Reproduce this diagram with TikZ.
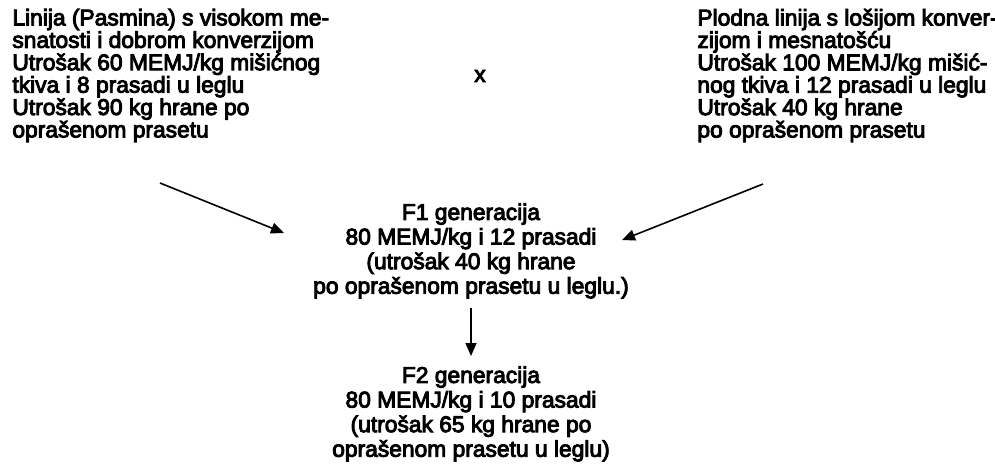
\documentclass[tikz,border=0pt]{standalone}
\usepackage{fontspec}
\setmainfont{Liberation Sans}
\newfontfamily\scanfont{Liberation Sans}[FakeBold=4]
\usetikzlibrary{arrows.meta}

\begin{document}
\begin{tikzpicture}[x=0.5pt,y=-0.5pt,
	txt/.style={font=\fontsize{11.4}{11.2}\selectfont\scanfont, inner sep=0pt},
	gen/.style={txt, align=center, font=\fontsize{11.4}{12.3}\selectfont\scanfont},
	arr/.style={line width=0.8pt, -{Triangle[length=6.5pt,width=5.5pt]}}]
	\useasboundingbox (0,0) rectangle (995,468);
	% parent lines
	\node[txt, align=left, anchor=north west] (lin) at (12,8.5) {Linija (Pasmina) s visokom me-\\snatosti i dobrom konverzijom\\Utrošak 60 MEMJ/kg mišićnog\\tkiva i 8 prasadi u leglu\\Utrošak 90 kg hrane po\\oprašenom prasetu};
	\node[txt, align=left, anchor=north west] (plod) at (697,8.5) {Plodna linija s lošijom konver-\\zijom i mesnatošću\\Utrošak 100 MEMJ/kg mišić-\\nog tkiva i 12 prasadi u leglu\\Utrošak 40 kg hrane\\po oprašenom prasetu};
	\node[txt] (x) at (480,76) {x};
	% generations
	\node[gen, anchor=north] (f1) at (471,203) {F1 generacija\\80 MEMJ/kg i 12 prasadi\\(utrošak 40 kg hrane\\po oprašenom prasetu u leglu.)};
	\node[gen, anchor=north] (f2) at (471,366) {F2 generacija\\80 MEMJ/kg i 10 prasadi\\(utrošak 65 kg hrane po\\oprašenom prasetu u leglu)};
	% arrows
	\coordinate (linend) at (160,183);
	\coordinate (f1left) at (284,233);
	\coordinate (plodend) at (763,184);
	\coordinate (f1right) at (622,240);
	\coordinate (f1bot) at (471,308);
	\coordinate (f2top) at (471,356);
	\draw[arr] (linend) -- (f1left);
	\draw[arr] (plodend) -- (f1right);
	\draw[arr] (f1bot) -- (f2top);
\end{tikzpicture}
\end{document}
